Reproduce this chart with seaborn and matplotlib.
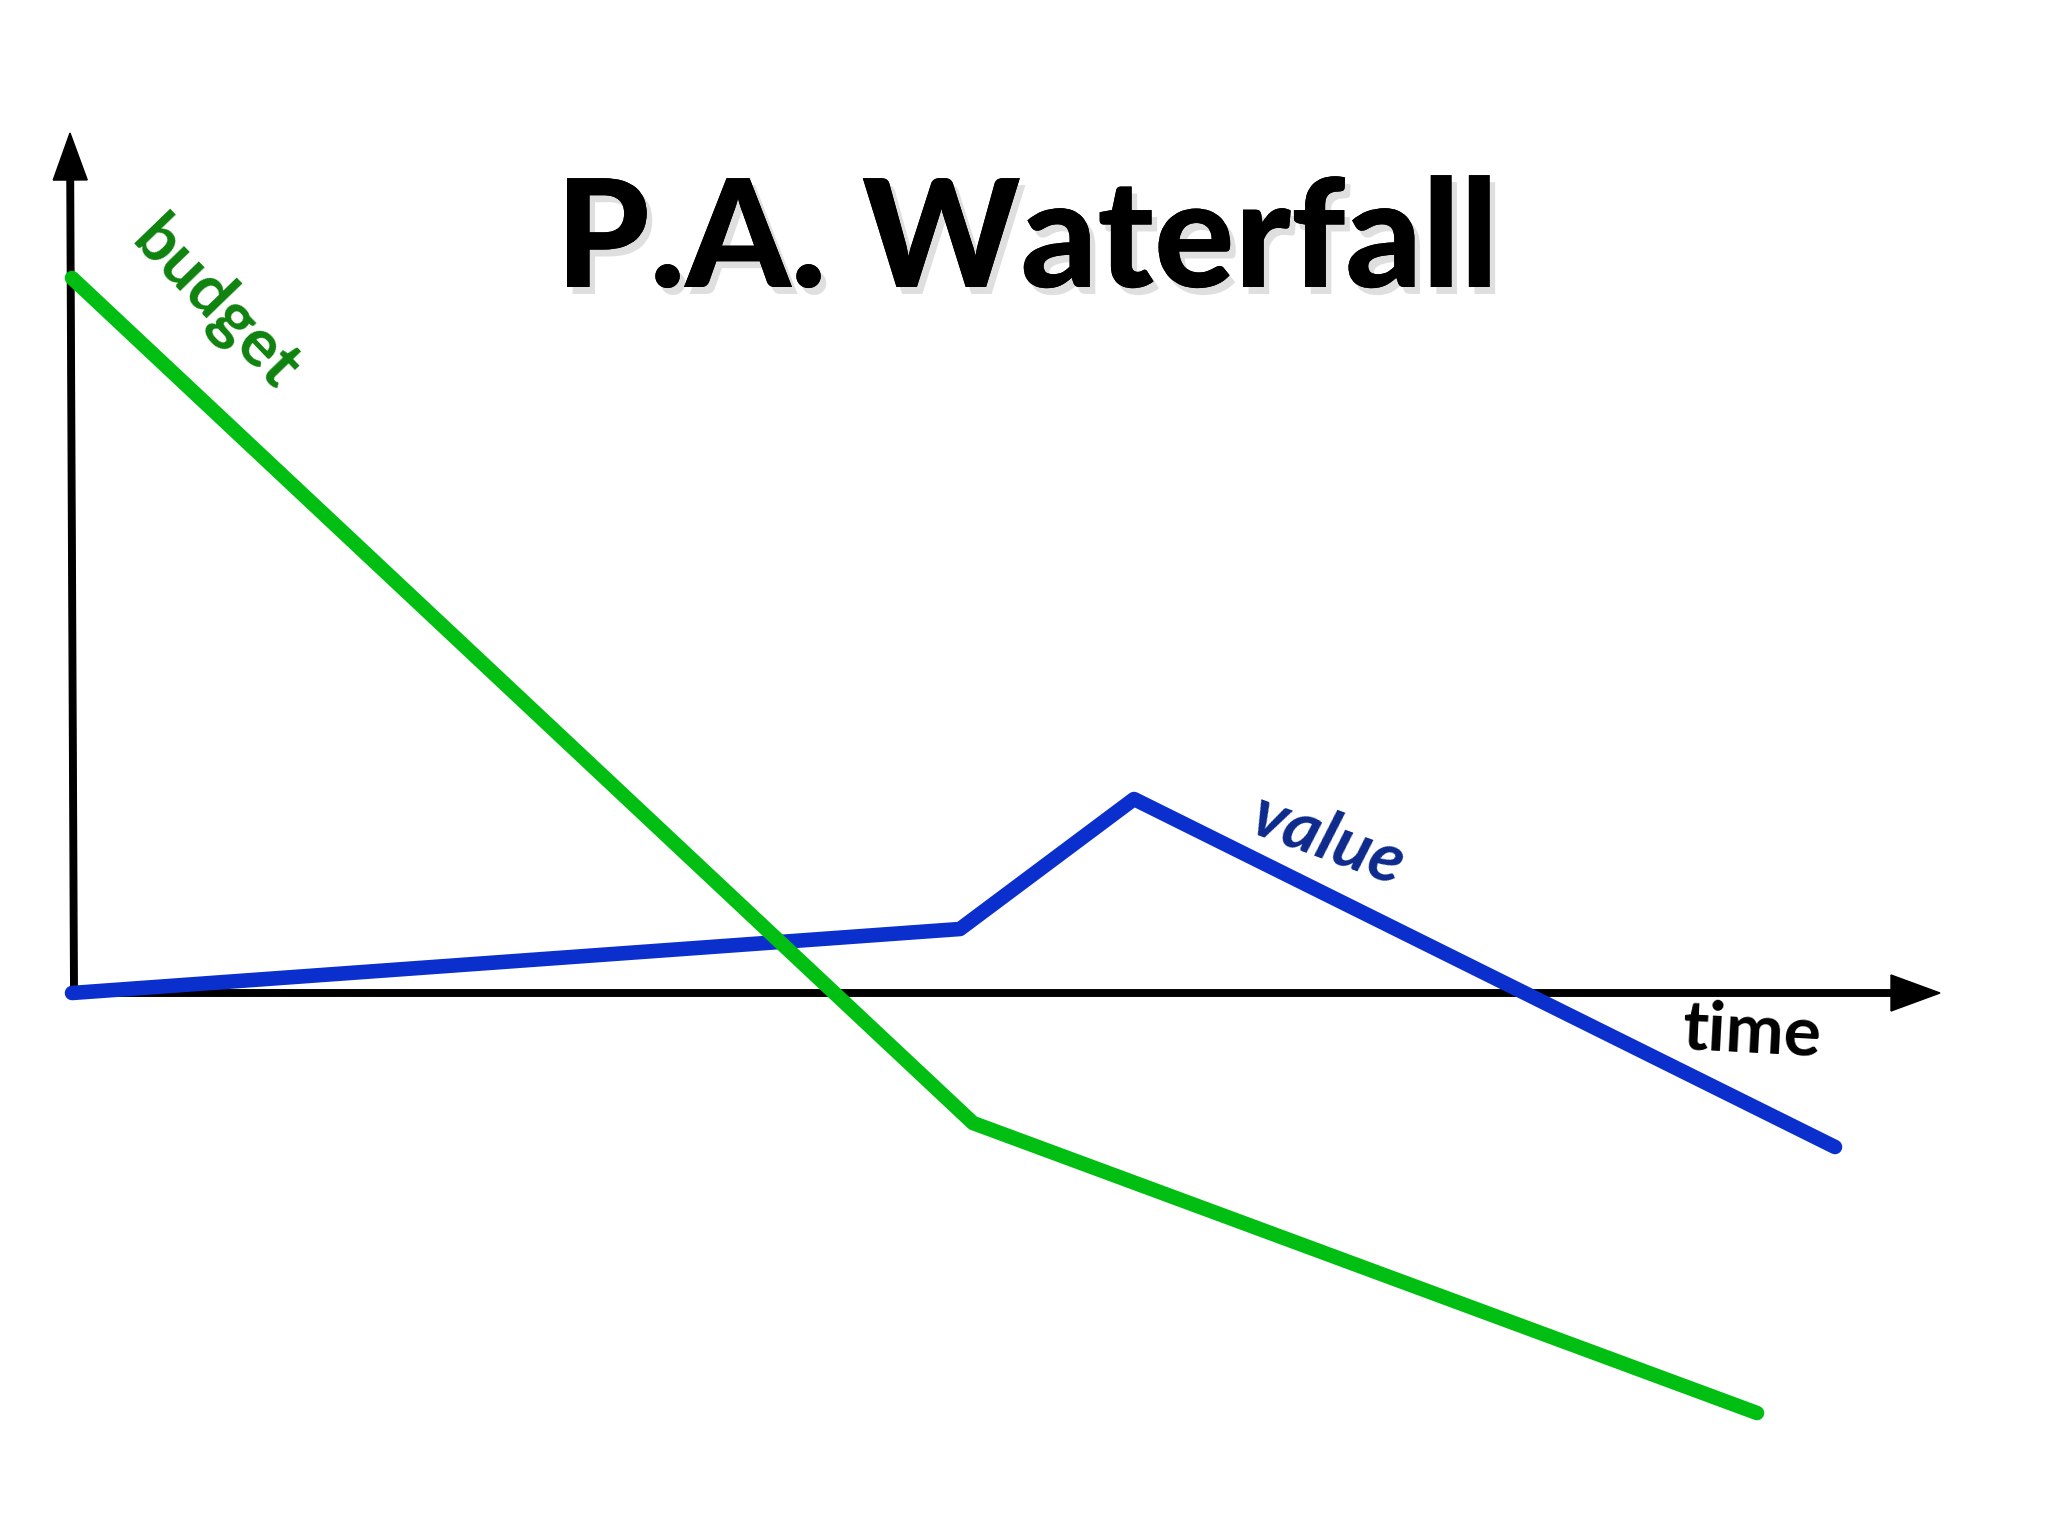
import matplotlib
matplotlib.use("Agg")
import matplotlib.pyplot as plt
import matplotlib.patheffects as pe
import seaborn as sns
import pandas as pd

# ---- data (time units, value units; origin at axis crossing) ----
budget_time = [0.0, 9.01, 16.85]
budget_value = [7.15, -1.30, -4.20]
value_time = [0.0, 8.88, 10.62, 17.63]
value_value = [0.0, 0.64, 1.94, -1.54]
series_names = ["value", "budget"]
series_colors = {"value": "#0a2fcc", "budget": "#00bf12"}
title_text = "P.A. Waterfall"
axis_label_x = "time"

df = pd.concat([
    pd.DataFrame({"time": value_time, "amount": value_value, "series": "value"}),
    pd.DataFrame({"time": budget_time, "amount": budget_value, "series": "budget"}),
])

sns.set_theme(style="white")
plt.rcParams["font.family"] = ["Lato", "DejaVu Sans"]

fig = plt.figure(figsize=(20.48, 15.36), dpi=100)
fig.patch.set_facecolor("white")
ax = fig.add_axes([0, 0, 1, 1])
ax.set_xlim(-0.72, 19.76)
ax.set_ylim(-5.43, 9.93)
ax.axis("off")

# axes with arrows
ax.arrow(0, 0, 18.68, 0, width=0.065, head_width=0.36, head_length=0.49,
         length_includes_head=True, color="black", zorder=1)
ax.arrow(0.02, 0, -0.04, 8.60, width=0.065, head_width=0.34, head_length=0.47,
         length_includes_head=True, color="black", zorder=1)

sns.lineplot(data=df, x="time", y="amount", hue="series", hue_order=series_names,
             palette=series_colors, sort=False, estimator=None, legend=False,
             linewidth=10.5, solid_capstyle="round", solid_joinstyle="round",
             ax=ax, zorder=3)

# title with shadow
ax.text(9.55, 7.06, title_text, ha="center", va="baseline", fontsize=108,
        fontweight="black", color="black",
        path_effects=[pe.withSimplePatchShadow(offset=(4, -5), alpha=0.25,
                                               shadow_rgbFace="gray"),
                      pe.Normal()], zorder=5)

# labels
ax.text(1.43, 6.88, "budget", ha="center", va="center", rotation=-46,
        fontsize=48, fontweight="bold", color="#0f820f", zorder=5)
ax.text(12.56, 1.53, "value", ha="center", va="center", rotation=-20,
        fontsize=50, fontweight="bold", style="italic", color="#0d2a8c", zorder=5)
ax.text(16.80, -0.40, axis_label_x, ha="center", va="center", rotation=-3,
        fontsize=50, fontweight="bold", color="black", zorder=5)

fig.savefig("out.png", dpi=100, facecolor="white")
